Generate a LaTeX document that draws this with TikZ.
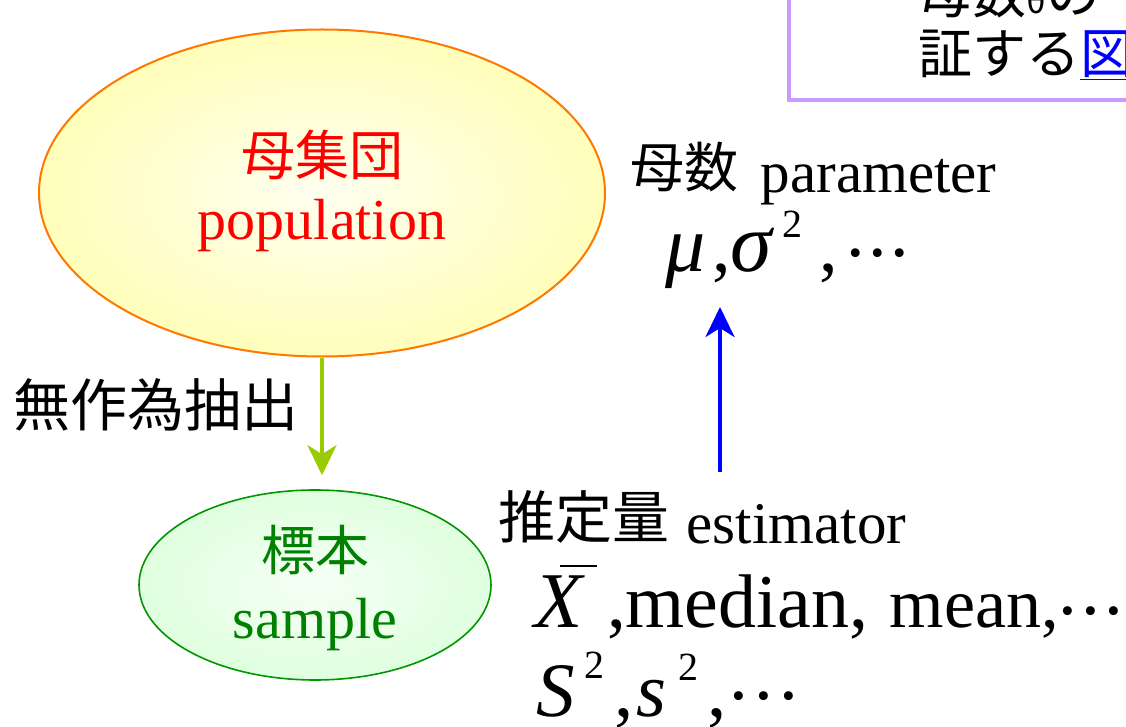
\documentclass[tikz,border=0pt]{standalone}
\usepackage{fontspec}
\setmainfont{Liberation Serif}
\newfontfamily\jp{Noto Sans CJK JP}
\usetikzlibrary{shapes.geometric,arrows.meta}
\definecolor{popborder}{RGB}{255,120,0}
\definecolor{smpborder}{RGB}{0,150,0}
\definecolor{smptext}{RGB}{0,128,0}
\definecolor{arrgreen}{RGB}{153,204,0}
\definecolor{boxlav}{RGB}{204,153,255}
\definecolor{linkblue}{RGB}{0,0,255}
\pgfdeclareradialshading{popshade}{\pgfpoint{0bp}{0bp}}{rgb(0bp)=(1,1,0.94);rgb(10bp)=(1,1,0.86);rgb(38bp)=(1,0.99,0.62);rgb(50bp)=(1,0.98,0.56)}
\pgfdeclareradialshading{smpshade}{\pgfpoint{0bp}{0bp}}{rgb(0bp)=(0.96,1,0.96);rgb(10bp)=(0.93,1,0.93);rgb(40bp)=(0.82,1,0.82);rgb(50bp)=(0.78,0.99,0.78)}
\newcommand\fs[1]{\fontsize{#1}{#1}\selectfont}
% place content at horizontal offset (pt) from the start of the line
\newcommand\pl[2]{\makebox[0pt][l]{\kern#1pt\relax#2}}
% superscript: size, raise, text
\newcommand\supr[3]{\raisebox{#2pt}{\fs{#1}#3}}
% one centred dot at offset, raise, size
\newcommand\dotat[3]{\pl{#1}{\makebox[0pt][c]{\raisebox{#2pt}{\fs{#3}.}}}}
\begin{document}
\begin{tikzpicture}[x=1pt,y=-1pt,
  cjk/.style={font=\jp\fs{#1}, inner sep=0pt},
  lat/.style={font=\fs{#1}, inner sep=0pt},
  popnode/.style={ellipse, draw=popborder, line width=2pt, shading=popshade, inner sep=0pt},
  smpnode/.style={ellipse, draw=smpborder, line width=1.6pt, shading=smpshade, inner sep=0pt},
  arr/.style={line width=4pt, -{Stealth[length=30pt,width=29pt,inset=9pt]}}]
\useasboundingbox (0,0) rectangle (1126,727);
\clip (0,0) rectangle (1126,727);
% box at top right
\draw[boxlav, line width=4pt] (789,-20) rectangle (1160,100);
\node[cjk=54, anchor=west] (note1) at (918,-7) {母数{\itshape\fs{34}θ}の};
\node[cjk=54, anchor=west] (note2) at (918,55) {証する\textcolor{linkblue}{\underline{図}}};
% population
\node[popnode, minimum width=566pt, minimum height=327pt] (pop) at (322,193) {};
\node[cjk=54, text=red] (popj) at (322,155) {母集団};
\node[lat=58, text=red, anchor=base] (pope) at (322,240) {population};
% sample
\node[smpnode, minimum width=352pt, minimum height=190pt] (smp) at (315,585) {};
\node[cjk=54, text=smptext] (smpj) at (315,550) {標本};
\node[lat=58, text=smptext, anchor=base] (smpe) at (315,638) {sample};
% random sampling
\draw[arr, arrgreen, shorten >=14pt] (pop.south) -- (pop.south |- smp.north);
\node[cjk=57, anchor=west] (rand) at (13,405) {無作為抽出};
% parameter
\node[lat=59, anchor=base west] (par) at (628,193)
  {\pl{2}{\raisebox{5pt}{\jp\fs{54}母数}}\pl{132}{parameter}\hspace{368pt}};
\node[lat=74, anchor=base west] (mu) at (650,272)
  {\pl{15}{\fs{80}\itshape μ}\pl{62}{,}\pl{80}{\fs{84}\itshape σ}\pl{132}{\supr{40}{35}{2}}\pl{169}{,}%
   \dotat{205}{16}{74}\dotat{227}{16}{74}\dotat{249}{16}{74}\hspace{256pt}};
% estimator
\node[lat=59, anchor=base west] (est) at (497,543)
  {\pl{1}{\raisebox{5pt}{\jp\fs{57}推定量}}\pl{189}{estimator}\hspace{408pt}};
\node[lat=75, anchor=base west] (xb) at (526,627)
  {\pl{33}{\rule[60pt]{37pt}{2.5pt}}\pl{8}{\fs{79}\itshape X}\pl{81}{,}\pl{99}{\fs{76}median,}\pl{363}{\fs{70}mean,}%
   \dotat{541}{13}{75}\dotat{564}{13}{75}\dotat{587}{13}{75}\hspace{600pt}};
\node[lat=77, anchor=base west] (ss) at (526,716)
  {\pl{10}{\itshape S}\pl{58}{\supr{40}{38}{2}}\pl{88}{,}\pl{110}{\itshape s}\pl{152}{\supr{40}{36}{2}}\pl{181}{,}%
   \dotat{212}{17}{75}\dotat{237}{17}{75}\dotat{262}{17}{75}\hspace{270pt}};
\coordinate (bt) at (720,472);
\coordinate (bh) at (720,307);
\draw[arr, linkblue] (bt) -- (bh);
\end{tikzpicture}
\end{document}
